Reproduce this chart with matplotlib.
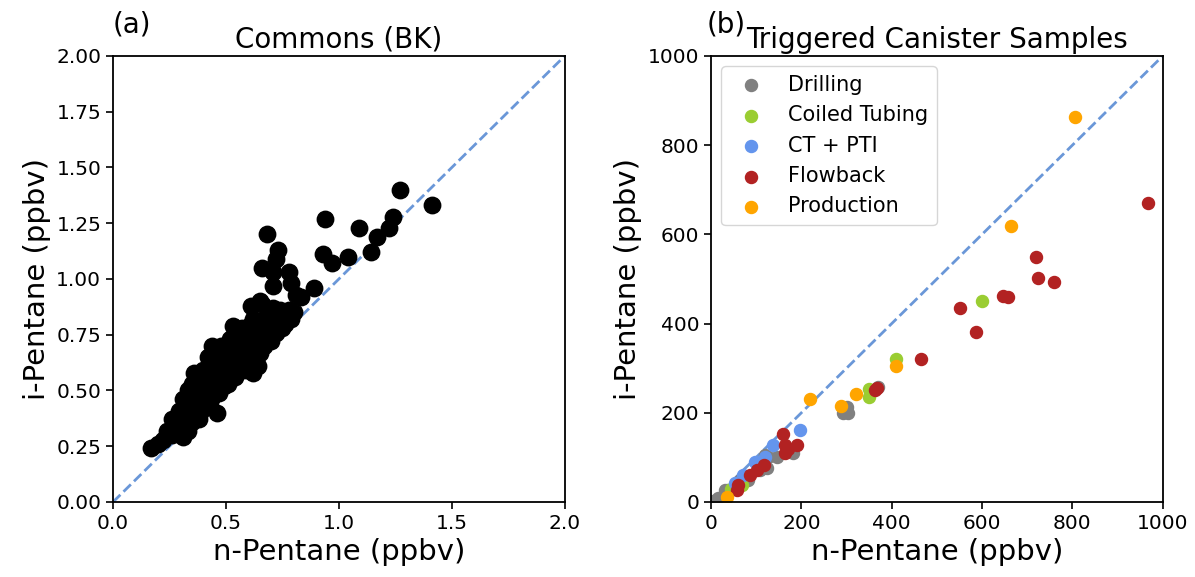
import matplotlib
matplotlib.use("Agg")
import matplotlib.pyplot as plt

# panel (a): Commons (BK), ppbv
n_a = [1.41, 1.27, 1.24, 1.22, 1.17, 1.14, 1.09, 1.04, 0.94, 0.93, 0.97, 0.89, 0.83,
       0.68, 0.73, 0.72, 0.66, 0.71, 0.71, 0.78, 0.79, 0.81,
       0.65, 0.61, 0.66, 0.78, 0.74, 0.79, 0.69, 0.62, 0.53, 0.73, 0.69, 0.66, 0.64,
       0.58, 0.56, 0.64, 0.62, 0.52, 0.47, 0.77, 0.74, 0.71, 0.80, 0.68, 0.61, 0.57,
       0.55, 0.52, 0.44, 0.48, 0.50, 0.54, 0.58, 0.60, 0.63, 0.67, 0.70, 0.75,
       0.40, 0.36, 0.44, 0.49, 0.56, 0.62, 0.59, 0.52, 0.49, 0.44, 0.42, 0.46, 0.43,
       0.37, 0.40, 0.33, 0.31, 0.29, 0.26, 0.31, 0.27, 0.24, 0.22, 0.17, 0.33, 0.31,
       0.38, 0.35, 0.38, 0.41, 0.45, 0.47, 0.50, 0.53, 0.55, 0.57, 0.60, 0.38, 0.41,
       0.45, 0.46, 0.50, 0.42, 0.35, 0.33, 0.36, 0.28, 0.30, 0.26, 0.20, 0.35, 0.39,
       0.43, 0.47, 0.51, 0.54, 0.57, 0.61, 0.65, 0.67, 0.70, 0.72, 0.76, 0.64, 0.62,
       0.59]
i_a = [1.33, 1.40, 1.28, 1.23, 1.19, 1.12, 1.23, 1.10, 1.27, 1.11, 1.07, 0.96, 0.92,
       1.20, 1.13, 1.09, 1.05, 1.03, 0.97, 1.03, 0.98, 0.93,
       0.90, 0.88, 0.89, 0.86, 0.83, 0.82, 0.85, 0.82, 0.79, 0.80, 0.78, 0.76, 0.71,
       0.72, 0.65, 0.61, 0.58, 0.59, 0.55, 0.82, 0.86, 0.87, 0.85, 0.74, 0.80, 0.78,
       0.75, 0.73, 0.70, 0.70, 0.68, 0.70, 0.69, 0.74, 0.78, 0.82, 0.80, 0.78,
       0.59, 0.58, 0.62, 0.62, 0.67, 0.64, 0.59, 0.55, 0.52, 0.47, 0.43, 0.40, 0.53,
       0.47, 0.50, 0.50, 0.46, 0.41, 0.37, 0.38, 0.34, 0.32, 0.28, 0.24, 0.32, 0.29,
       0.37, 0.42, 0.44, 0.47, 0.51, 0.58, 0.60, 0.63, 0.58, 0.62, 0.66, 0.54, 0.56,
       0.57, 0.65, 0.65, 0.65, 0.53, 0.44, 0.40, 0.36, 0.34, 0.30, 0.26, 0.36, 0.41,
       0.45, 0.49, 0.53, 0.56, 0.60, 0.62, 0.67, 0.70, 0.72, 0.76, 0.80, 0.74, 0.69,
       0.71]

# panel (b): triggered canister samples, ppbv
drill_n = [293, 303, 300, 370, 181, 146, 119, 126, 124, 108, 82, 64, 38, 31, 15, 5]
drill_i = [199, 200, 213, 258, 110, 101, 105, 101, 76, 72, 49, 49, 22, 27, 9, 2]
coil_n = [600, 409, 350, 350, 69, 45]
coil_i = [451, 320, 253, 235, 38, 30]
ctpti_n = [197, 137, 97, 71, 53, 120]
ctpti_i = [161, 128, 90, 61, 42, 100]
flow_n = [967, 719, 723, 759, 646, 657, 551, 586, 465, 367, 363, 159, 190, 164, 164,
          117, 102, 86, 60, 57, 170]
flow_i = [670, 549, 502, 493, 462, 459, 435, 381, 321, 256, 251, 152, 128, 128, 110,
          83, 72, 61, 38, 27, 118]
prod_n = [805, 664, 409, 321, 288, 219, 35]
prod_i = [863, 619, 305, 242, 215, 231, 11]

groups = [
    ("Drilling", drill_n, drill_i, "grey"),
    ("Coiled Tubing", coil_n, coil_i, "yellowgreen"),
    ("CT + PTI", ctpti_n, ctpti_i, "cornflowerblue"),
    ("Flowback", flow_n, flow_i, "firebrick"),
    ("Production", prod_n, prod_i, "orange"),
]

plt.rcParams["font.family"] = "DejaVu Sans"
fig = plt.figure(figsize=(11.95, 5.77), dpi=100)
ax1 = fig.add_axes([0.0946, 0.130, 0.378, 0.773])
ax2 = fig.add_axes([0.595, 0.130, 0.378, 0.773])

line_color = "#6a97d8"

ax1.plot([0, 2], [0, 2], ls="--", color=line_color, lw=2, zorder=1)
ax1.scatter(n_a, i_a, s=140, color="black", zorder=2)
ax1.set_xlim(0, 2)
ax1.set_ylim(0, 2)
ax1.set_xticks([0, 0.5, 1.0, 1.5, 2.0])
ax1.set_yticks([0, 0.25, 0.5, 0.75, 1.0, 1.25, 1.5, 1.75, 2.0])
ax1.set_yticklabels(["0.00", "0.25", "0.50", "0.75", "1.00", "1.25", "1.50", "1.75", "2.00"])
ax1.set_title("Commons (BK)", fontsize=20)
ax1.text(0.0, 1.04, "(a)", transform=ax1.transAxes, fontsize=20, ha="left", va="bottom")

ax2.plot([0, 1000], [0, 1000], ls="--", color=line_color, lw=2, zorder=1)
for label, xs, ys, c in groups:
    ax2.scatter(xs, ys, s=75, color=c, label=label, zorder=2)
ax2.set_xlim(0, 1000)
ax2.set_ylim(0, 1000)
ax2.set_xticks(range(0, 1001, 200))
ax2.set_yticks(range(0, 1001, 200))
ax2.set_title("Triggered Canister Samples", fontsize=20)
ax2.text(-0.01, 1.04, "(b)", transform=ax2.transAxes, fontsize=20, ha="left", va="bottom")
ax2.legend(loc="upper left", fontsize=15, borderaxespad=0.5)

for ax in (ax1, ax2):
    ax.set_xlabel("n-Pentane (ppbv)", fontsize=21)
    ax.set_ylabel("i-Pentane (ppbv)", fontsize=21)
    ax.tick_params(labelsize=14.5, length=5, width=1.2)
    for sp in ax.spines.values():
        sp.set_linewidth(1.3)

fig.savefig("out.png", dpi=100)
